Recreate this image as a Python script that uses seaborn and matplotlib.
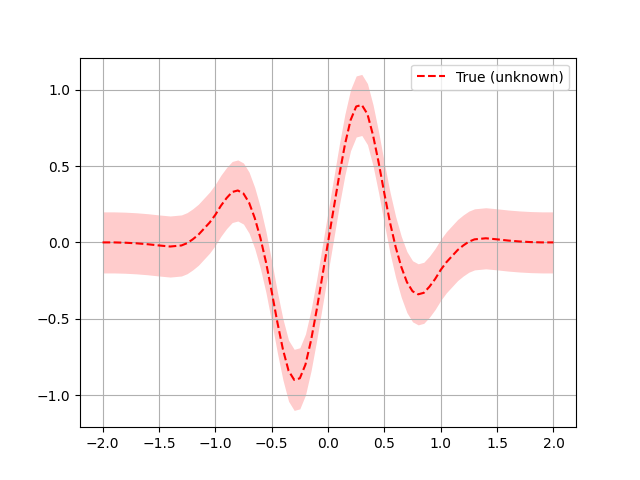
import numpy as np
import pandas as pd
import seaborn as sns
from matplotlib import pyplot as plt

# values
x_vals = [-2.0, -1.9, -1.8, -1.7, -1.6, -1.5, -1.4, -1.3, -1.25,
          -1.2, -1.15, -1.1, -1.05, -1.0, -0.95, -0.9, -0.85, -0.8, -0.75,
          -0.7, -0.65, -0.6, -0.55, -0.5, -0.45, -0.4, -0.35, -0.3, -0.25,
          -0.2, -0.15, -0.1, -0.05, 0.0,
          0.05, 0.1, 0.15, 0.2, 0.25, 0.3, 0.35, 0.4, 0.45, 0.5, 0.55,
          0.6, 0.65, 0.7, 0.75, 0.8, 0.85, 0.9, 0.95, 1.0, 1.05, 1.1,
          1.15, 1.2, 1.25, 1.3, 1.4, 1.5, 1.6, 1.7, 1.8, 1.9, 2.0]
y_true = [0.0, 0.0, -0.002, -0.006, -0.012, -0.02, -0.027, -0.02, -0.005,
          0.02, 0.05, 0.09, 0.13, 0.18, 0.24, 0.29, 0.33, 0.34, 0.32,
          0.26, 0.16, 0.03, -0.13, -0.32, -0.52, -0.70, -0.84, -0.90, -0.89,
          -0.80, -0.64, -0.44, -0.22, 0.0,
          0.22, 0.44, 0.64, 0.80, 0.89, 0.90, 0.84, 0.70, 0.52, 0.32, 0.13,
          -0.03, -0.16, -0.26, -0.32, -0.34, -0.33, -0.29, -0.24, -0.18, -0.13, -0.09,
          -0.05, -0.02, 0.005, 0.02, 0.027, 0.02, 0.012, 0.006, 0.002, 0.0, 0.0]
band_width = 0.2

df = pd.DataFrame({'x': x_vals, 'y': y_true})

fig, ax = plt.subplots(figsize=(6.4, 4.8), dpi=100)
ax.fill_between(df['x'], df['y'] - band_width, df['y'] + band_width,
                color='red', alpha=0.2, linewidth=0)
sns.lineplot(x='x', y='y', data=df, color='red', linestyle='--',
             label='True (unknown)', ax=ax)
ax.set(xlabel='', ylabel='')
ax.set_xticks(np.arange(-2.0, 2.01, 0.5))
ax.set_yticks([-1.0, -0.5, 0.0, 0.5, 1.0])
ax.grid(True)
ax.legend(loc='upper right')

fig.savefig('out.png', dpi=100)
plt.close()
